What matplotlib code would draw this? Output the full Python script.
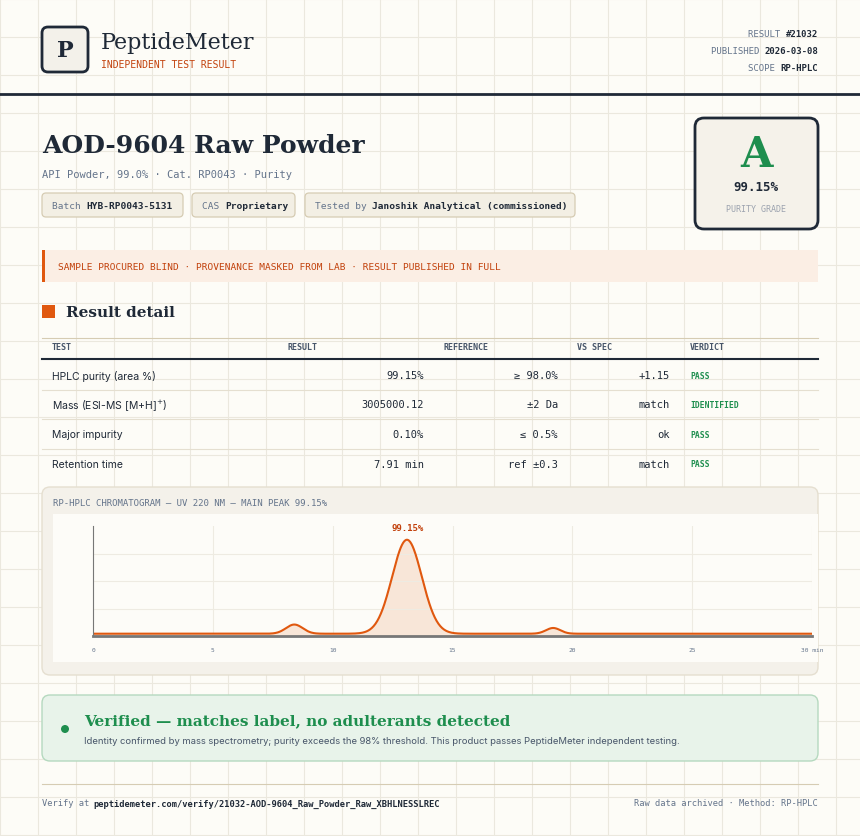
import numpy as np
import matplotlib.pyplot as plt
from matplotlib.patches import FancyBboxPatch, Rectangle, Circle

# ---- data ----
test_names = ['HPLC purity (area %)', 'Mass (ESI-MS [M+H]$^{+}$)', 'Major impurity', 'Retention time']
results = ['99.15%', '3005000.12', '0.10%', '7.91 min']
references = ['≥ 98.0%', '±2 Da', '≤ 0.5%', 'ref ±0.3']
vs_spec = ['+1.15', 'match', 'ok', 'match']
verdicts = ['PASS', 'IDENTIFIED', 'PASS', 'PASS']

peak_rt = [8.4, 13.1, 19.2]        # min
peak_height = [0.08, 0.82, 0.05]
peak_sigma = [0.35, 0.62, 0.3]
baseline = 0.02
x_ticks = [0, 5, 10, 15, 20, 25, 30]
x_tick_labels = ['0', '5', '10', '15', '20', '25', '30 min']

BG = '#fdfcf7'
DARK = '#1f2937'
ORANGE = '#e0580f'
ORANGE_TXT = '#c2410c'
GRAY = '#64748b'
GREEN = '#1e8e4e'
SERIF = 'DejaVu Serif'
MONO = 'DejaVu Sans Mono'
SANS = 'Inter'

fig = plt.figure(figsize=(8.6, 8.37), dpi=100, facecolor=BG)
ax = fig.add_axes([0, 0, 1, 1])
ax.set_xlim(0, 860)
ax.set_ylim(837, 0)
ax.axis('off')

# background grid
for gx in range(0, 861, 38):
    ax.plot([gx, gx], [0, 837], color='#ebe8de', lw=0.8, zorder=0)
for gy in range(0, 838, 38):
    ax.plot([0, 860], [gy, gy], color='#ebe8de', lw=0.8, zorder=0)

def rbox(x0, y0, x1, y1, fc, ec, lw=1, r=4, z=1):
    ax.add_patch(FancyBboxPatch((x0 + r, y0 + r), x1 - x0 - 2 * r, y1 - y0 - 2 * r,
                                boxstyle=f'round,pad={r}', fc=fc, ec=ec, lw=lw, zorder=z))

# header
rbox(42, 28, 88, 73, '#f3f1ea', DARK, lw=2, r=6)
ax.text(65, 51, 'P', family=SERIF, weight='bold', size=16, color=DARK, ha='center', va='center', zorder=3)
ax.text(101, 43, 'PeptideMeter', family=SERIF, size=16, color=DARK, va='center')
ax.text(101, 65, 'INDEPENDENT TEST RESULT', family=MONO, size=7, color=ORANGE_TXT, va='center')
for yy, k, v in [(34, 'RESULT ', '#21032'), (51, 'PUBLISHED ', '2026-03-08'), (68, 'SCOPE ', 'RP-HPLC')]:
    ax.text(818, yy, v, family=MONO, size=6.5, weight='bold', color=DARK, ha='right', va='center')
    ax.text(818 - 6.3 * len(v) * 0.85, yy, k, family=MONO, size=6.5, color=GRAY, ha='right', va='center')
ax.plot([0, 860], [95, 95], color=DARK, lw=2)

# title block
ax.text(42, 146, 'AOD-9604 Raw Powder', family=SERIF, weight='bold', size=18, color=DARK, va='center')
ax.text(42, 175, 'API Powder, 99.0% · Cat. RP0043 · Purity', family=MONO, size=7.5, color=GRAY, va='center')
chips = [(42, 183, 'Batch ', 'HYB-RP0043-5131'), (192, 295, 'CAS ', 'Proprietary'),
         (305, 575, 'Tested by ', 'Janoshik Analytical (commissioned)')]
for x0, x1, k, v in chips:
    rbox(x0, 194, x1, 218, '#f3efe4', '#d6ccb3', lw=0.9, r=4)
    ax.text(x0 + 10, 206, k, family=MONO, size=6.8, color=GRAY, va='center', zorder=3)
    ax.text(x0 + 10 + len(k) * 5.7, 206, v, family=MONO, size=6.8, weight='bold', color=DARK, va='center', zorder=3)

# grade box
rbox(695, 119, 818, 230, '#f5f2ea', DARK, lw=2, r=9)
ax.text(756, 155, 'A', family=SERIF, weight='bold', size=30, color=GREEN, ha='center', va='center', zorder=3)
ax.text(756, 187, '99.15%', family=MONO, weight='bold', size=9, color=DARK, ha='center', va='center', zorder=3)
ax.text(756, 209, 'PURITY GRADE', family=MONO, size=6, color='#9ca3af', ha='center', va='center', zorder=3)

# banner
ax.add_patch(Rectangle((42, 251), 776, 32, fc='#fbeee4', ec='none'))
ax.add_patch(Rectangle((42, 251), 3, 32, fc=ORANGE, ec='none'))
ax.text(58, 267, 'SAMPLE PROCURED BLIND · PROVENANCE MASKED FROM LAB · RESULT PUBLISHED IN FULL',
        family=MONO, size=6.8, color=ORANGE_TXT, va='center')

# result detail
ax.add_patch(Rectangle((42, 306), 13, 13, fc=ORANGE, ec='none'))
ax.text(66, 313, 'Result detail', family=SERIF, weight='bold', size=11, color=DARK, va='center')
ax.plot([42, 818], [339, 339], color='#d6ccb3', lw=0.8)
for x, h in [(52, 'TEST'), (288, 'RESULT'), (443, 'REFERENCE'), (577, 'VS SPEC'), (690, 'VERDICT')]:
    ax.text(x, 347, h, family=MONO, size=6, weight='bold', color='#475569', va='center')
ax.plot([42, 818], [360, 360], color=DARK, lw=1.5)
for i in range(len(test_names)):
    yy = 376 + i * 29.5
    ax.text(52, yy, test_names[i], family=SANS, size=7.5, color=DARK, va='center')
    ax.text(424, yy, results[i], family=MONO, size=7.5, color=DARK, ha='right', va='center')
    ax.text(558, yy, references[i], family=MONO, size=7.5, color=DARK, ha='right', va='center')
    ax.text(670, yy, vs_spec[i], family=MONO, size=7.5, color=DARK, ha='right', va='center')
    ax.text(690, yy, verdicts[i], family=MONO, size=5.8, weight='bold', color=GREEN, va='center')
    if i < len(test_names) - 1:
        ax.plot([42, 818], [yy + 14.5, yy + 14.5], color='#e5dfd0', lw=0.8)

# chromatogram panel
rbox(42, 488, 818, 676, '#f4f1ea', '#e5dfd0', lw=1, r=8)
ax.text(53, 503, 'RP-HPLC CHROMATOGRAM — UV 220 NM — MAIN PEAK 99.15%', family=MONO, size=6.5,
        color=GRAY, va='center', zorder=3)
ax.add_patch(Rectangle((53, 515), 765, 148, fc='#fdfcf8', ec='none', zorder=2))

cax = fig.add_axes([93 / 860, 1 - 637 / 837, (812 - 93) / 860, (637 - 527) / 837])
cax.set_facecolor('none')
t = np.linspace(0, 30, 1200)
y = np.full_like(t, baseline)
for rt, h, s in zip(peak_rt, peak_height, peak_sigma):
    y = y + h * np.exp(-0.5 * ((t - rt) / s) ** 2)
cax.fill_between(t, 0, y, color='#f8e6d8', lw=0)
cax.plot(t, y, color=ORANGE, lw=1.5)
cax.set_xlim(0, 30)
cax.set_ylim(0, 0.96)
cax.set_xticks(x_ticks)
cax.set_xticklabels(x_tick_labels, family=MONO, size=4.5, color=GRAY)
cax.set_yticks([0.24, 0.48, 0.72])
cax.set_yticklabels([])
cax.tick_params(length=0, pad=8)
cax.grid(True, color='#eeebe2', lw=0.8)
for s in ['top', 'right']:
    cax.spines[s].set_visible(False)
cax.spines['left'].set_color('#777777')
cax.spines['bottom'].set_color('#777777')
cax.spines['bottom'].set_linewidth(2)
imax = int(np.argmax(y))
cax.annotate('99.15%', (t[imax], y[imax]), xytext=(0, 7), textcoords='offset points',
             ha='center', family=MONO, weight='bold', size=6.5, color=ORANGE_TXT)

# verified box
rbox(42, 696, 818, 762, '#e8f3ea', '#b5d9bf', lw=1, r=8)
ax.add_patch(Circle((65, 730), 4, fc=GREEN, ec='none', zorder=3))
ax.text(84, 721, 'Verified — matches label, no adulterants detected', family=SERIF, weight='bold',
        size=11, color=GREEN, va='center', zorder=3)
ax.text(84, 742, 'Identity confirmed by mass spectrometry; purity exceeds the 98% threshold. '
        'This product passes PeptideMeter independent testing.', family=SANS, size=6.8,
        color='#475569', va='center', zorder=3)

# footer
ax.plot([42, 818], [785, 785], color='#d6ccb3', lw=0.8)
ax.text(42, 804, 'Verify at ', family=MONO, size=6.3, color=GRAY, va='center')
ax.text(93, 804, 'peptidemeter.com/verify/21032-AOD-9604_Raw_Powder_Raw_XBHLNESSLREC', family=MONO,
        size=6.3, weight='bold', color=DARK, va='center')
ax.text(818, 804, 'Raw data archived · Method: RP-HPLC', family=MONO, size=6.3, color=GRAY,
        ha='right', va='center')

fig.savefig('out.png', dpi=100, facecolor=BG)
